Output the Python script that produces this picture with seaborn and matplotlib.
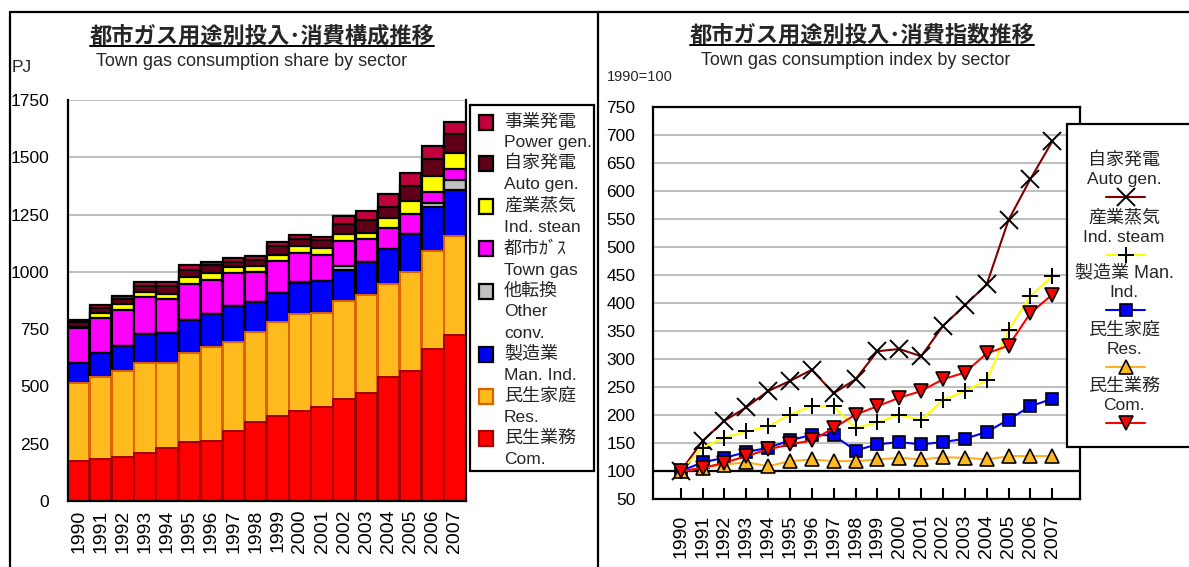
import numpy as np
import pandas as pd
import matplotlib
matplotlib.use('Agg')
import matplotlib.pyplot as plt
import seaborn as sns
from matplotlib.lines import Line2D
from matplotlib.patches import Rectangle

# ---------------- data ----------------
years = [str(y) for y in range(1990, 2008)]

# PJ by sector (left chart, stacked bottom -> top)
com   = [176, 182, 193, 211, 230, 256, 263, 305, 346, 372, 394, 412, 445, 473, 542, 567, 662, 723]
res   = [337, 358, 376, 393, 374, 391, 408, 390, 393, 408, 420, 410, 428, 426, 403, 431, 429, 435]
man   = [88, 104, 107, 123, 128, 143, 145, 156, 131, 129, 136, 139, 135, 145, 153, 166, 193, 199]
other = [0, 0, 0, 0, 0, 0, 0, 0, 0, 0, 5, 0, 17, 0, 0, 0, 16, 44]
town  = [152, 153, 157, 162, 149, 155, 148, 142, 131, 139, 126, 112, 109, 98, 92, 87, 48, 46]
ind   = [6, 22, 25, 24, 22, 31, 32, 29, 24, 25, 31, 32, 31, 29, 43, 58, 70, 73]
auto  = [24, 22, 22, 25, 35, 32, 34, 22, 26, 41, 31, 34, 44, 55, 51, 65, 76, 81]
power = [6, 14, 14, 16, 16, 22, 14, 18, 19, 17, 17, 14, 34, 41, 55, 56, 55, 54]

# index 1990=100 (right chart)
auto_idx = [100, 154, 190, 214, 243, 261, 281, 239, 264, 314, 318, 305, 359, 396, 433, 548, 621, 688]
ind_idx  = [100, 142, 160, 171, 180, 201, 216, 216, 177, 187, 201, 191, 227, 243, 262, 352, 412, 448]
man_idx  = [100, 116, 124, 134, 142, 155, 165, 164, 137, 148, 152, 148, 152, 158, 170, 192, 216, 229]
res_idx  = [100, 106, 112, 116, 109, 118, 121, 118, 118, 121, 124, 121, 125, 124, 121, 127, 127, 127]
com_idx  = [100, 106, 115, 127, 139, 148, 155, 177, 201, 216, 231, 243, 264, 276, 310, 324, 382, 415]

# ---------------- style ----------------
sns.set_theme(style='white')
plt.rcParams['font.family'] = ['Liberation Sans', 'Noto Sans CJK JP', 'DejaVu Sans']
plt.rcParams['axes.unicode_minus'] = False

W, H = 1189, 567
fig = plt.figure(figsize=(W / 100, H / 100), dpi=100)
fig.patch.set_facecolor('white')


def fx(x):
    return x / W


def fy(y):
    return 1 - y / H


# ---------------- left chart: stacked bars ----------------
ax1 = fig.add_axes([fx(67.5), fy(501), fx(466) - fx(67.5), fy(100) - fy(501)])

layers = [  # bottom -> top
    ('民生業務\nCom.', com, '#FF0000', '#A00000'),
    ('民生家庭\nRes.', res, '#FFBB1E', '#E06000'),
    ('製造業\nMan. Ind.', man, '#0000FF', 'black'),
    ('他転換\nOther\nconv.', other, '#C0C0C0', 'black'),
    ('都市ｶﾞｽ\nTown gas', town, '#FF00FF', 'black'),
    ('産業蒸気\nInd. stean', ind, '#FFFF00', 'black'),
    ('自家発電\nAuto gen.', auto, '#600018', 'black'),
    ('事業発電\nPower gen.', power, '#C0003C', 'black'),
]

cums = np.cumsum(np.array([l[1] for l in layers], dtype=float), axis=0)
for i in range(len(layers) - 1, -1, -1):
    name, vals, col, ec = layers[i]
    lw = 1.6 if ec == 'black' else 1.4
    sns.barplot(x=years, y=cums[i], color=col, saturation=1, edgecolor=ec,
                linewidth=lw, width=0.97, errorbar=None, ax=ax1)

ax1.set_xlim(-0.5, 17.5)
ax1.set_ylim(0, 1750)
ax1.set_yticks(np.arange(0, 1751, 250))
ax1.yaxis.grid(True, color='#C0C0C0', lw=1.5)
ax1.set_axisbelow(True)
ax1.set_xlabel('')
ax1.set_ylabel('')
ax1.set_xticks(range(len(years)))
ax1.set_xticklabels(years, rotation=90, fontsize=14)
ax1.tick_params(axis='x', length=0, pad=6, colors='black')
ax1.tick_params(axis='y', length=0, pad=13, labelsize=12.5, colors='black')
for s in ['left', 'right', 'bottom']:
    ax1.spines[s].set_visible(True)
    ax1.spines[s].set_color('black')
    ax1.spines[s].set_linewidth(1.6)
ax1.spines['top'].set_visible(False)

# ---------------- right chart: index lines ----------------
ax2 = fig.add_axes([fx(652.7), fy(499.3), fx(1080) - fx(652.7), fy(106.7) - fy(499.3)])
xpos = np.arange(len(years))

series = [
    ('自家発電\nAuto gen.', auto_idx, '#800000', 'x', 'black', 'black', 12.5),
    ('産業蒸気\nInd. steam', ind_idx, '#FFFF00', '+', 'black', 'black', 12),
    ('製造業 Man.\nInd.', man_idx, '#0000FF', 's', '#0000FF', 'black', 8),
    ('民生家庭\nRes.', res_idx, '#FFB020', '^', '#FFB81E', 'black', 9.5),
    ('民生業務\nCom.', com_idx, '#FF0000', 'v', '#FF0000', 'black', 9.5),
]

ax2.axhline(100, color='black', lw=1.6, zorder=1.5)
for name, vals, lc, mk, mfc, mec, ms in series:
    sns.lineplot(x=xpos, y=vals, color=lc, marker=mk, markersize=ms,
                 markerfacecolor=mfc, markeredgecolor=mec,
                 markeredgewidth=1.4 if mk in ('x', '+') else 1.2,
                 linewidth=1.5, ax=ax2, legend=False, zorder=3)

ax2.set_xlim(-1.28, 18.27)
ax2.set_ylim(50, 750)
ax2.set_yticks(np.arange(50, 751, 50))
ax2.yaxis.grid(True, color='#C0C0C0', lw=1.5)
ax2.set_axisbelow(True)
ax2.set_xlabel('')
ax2.set_ylabel('')
ax2.set_xticks(xpos)
ax2.set_xticklabels(years, rotation=90, fontsize=14)
ax2.tick_params(axis='x', bottom=True, direction='in', length=8, width=1.5,
                pad=11, colors='black')
ax2.tick_params(axis='y', length=0, pad=12.5, labelsize=12.5, colors='black')
for s in ['left', 'right', 'bottom', 'top']:
    ax2.spines[s].set_visible(True)
    ax2.spines[s].set_color('black')
    ax2.spines[s].set_linewidth(1.6)

# ---------------- frame lines ----------------
for (x0, y0, x1, y1) in [(10, 12, 10, 570), (10, 12, 1195, 12), (598, 12, 598, 570)]:
    fig.add_artist(Line2D([fx(x0), fx(x1)], [fy(y0), fy(y1)], transform=fig.transFigure,
                          color='black', lw=1.6))

# ---------------- titles ----------------
t1 = fig.text(fx(262), fy(37), '都市ガス用途別投入･消費構成推移', ha='center', va='center',
              fontsize=16, fontweight='bold')
t2 = fig.text(fx(862), fy(36), '都市ガス用途別投入･消費指数推移', ha='center', va='center',
              fontsize=16, fontweight='bold')
fig.text(fx(252), fy(62), 'Town gas consumption share by sector', ha='center', va='center',
         fontsize=13)
fig.text(fx(856), fy(61), 'Town gas consumption index by sector', ha='center', va='center',
         fontsize=13)
fig.text(fx(12), fy(68), 'PJ', ha='left', va='center', fontsize=12.5)
fig.text(fx(607), fy(77), '1990=100', ha='left', va='center', fontsize=10.5)

# ---------------- left legend ----------------
fig.add_artist(Rectangle((fx(470), fy(471)), fx(594) - fx(470), fy(105) - fy(471),
                         transform=fig.transFigure, fill=False, ec='black', lw=1.6))
jp_y = [122, 163, 206, 249, 291, 354, 396, 438]
for (name, vals, col, ec), yy in zip(layers[::-1], jp_y):
    fig.add_artist(Rectangle((fx(479), fy(130)), fx(493) - fx(479), fy(115) - fy(130),
                             transform=fig.transFigure, fc=col, ec=ec, lw=1.6))
    fig.artists[-1].set_y(fy(yy + 7.5))
    lines = name.split('\n')
    for k, ln in enumerate(lines):
        fig.text(fx(504), fy(yy + 21 * k), ln, ha='left', va='center',
                 fontsize=13 if k == 0 else 12.5)

# ---------------- right legend ----------------
fig.add_artist(Rectangle((fx(1067), fy(447)), fx(1200) - fx(1067), fy(124) - fy(447),
                         transform=fig.transFigure, fc='white', ec='black', lw=1.6, zorder=4))
rl_y = [160, 218, 273, 330, 386]
for (name, vals, lc, mk, mfc, mec, ms), yy in zip(series, rl_y):
    l1, l2 = name.split('\n')
    fig.text(fx(1124), fy(yy), l1, ha='center', va='center', fontsize=13, zorder=5)
    fig.text(fx(1124), fy(yy + 19.5), l2, ha='center', va='center', fontsize=12.5, zorder=5)
    ly = yy + 36.5
    fig.add_artist(Line2D([fx(1106), fx(1145)], [fy(ly), fy(ly)], transform=fig.transFigure,
                          color=lc, lw=1.5, zorder=5))
    fig.add_artist(Line2D([fx(1125.5)], [fy(ly)], transform=fig.transFigure, marker=mk,
                          markersize=ms, markerfacecolor=mfc, markeredgecolor=mec,
                          markeredgewidth=1.4 if mk in ('x', '+') else 1.2,
                          linestyle='none', zorder=6))

# ---------------- underline titles ----------------
fig.canvas.draw()
rend = fig.canvas.get_renderer()
for t in (t1, t2):
    bb = t.get_window_extent(rend)
    yl = (bb.y0 + 2) / H
    fig.add_artist(Line2D([bb.x0 / W, bb.x1 / W], [yl, yl], transform=fig.transFigure,
                          color='black', lw=1.4))

fig.savefig('out.png', dpi=100)
